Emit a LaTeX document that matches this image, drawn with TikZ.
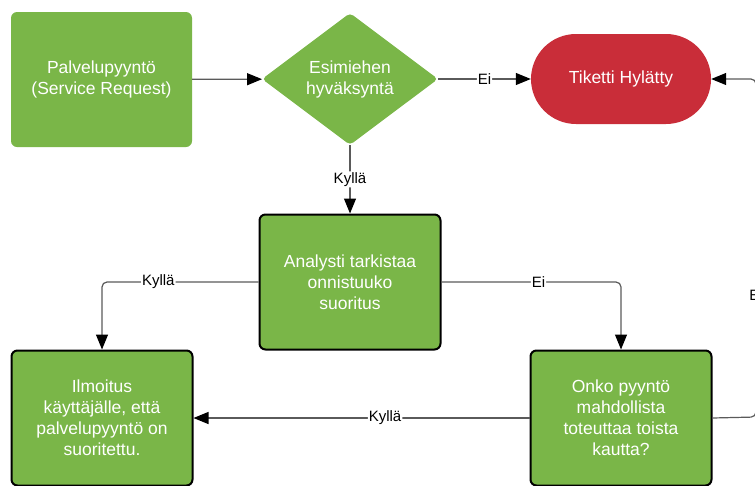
\documentclass[tikz,border=0pt]{standalone}
\usepackage{fontspec}
\setmainfont{Liberation Sans}
\usetikzlibrary{shapes.geometric,arrows.meta}
\definecolor{lgreen}{HTML}{7AB648}
\definecolor{lred}{HTML}{C92D39}
\definecolor{lline}{HTML}{5A5A5A}
\begin{document}
\begin{tikzpicture}[x=1pt, y=-1pt,
    main/.style = {rectangle, rounded corners=6pt, fill=lgreen, text=white, align=center,
      minimum width=181pt, minimum height=135pt, inner sep=2pt,
      font=\fontsize{17.5}{21}\selectfont},
    edged/.style = {main, draw=black, line width=2pt},
    choice/.style = {diamond, rounded corners=4pt, fill=lgreen, text=white, align=center,
      minimum width=176pt, minimum height=132pt, inner sep=0pt,
      font=\fontsize{17.5}{21}\selectfont},
    stop/.style = {main, fill=lred, rounded corners=45pt, minimum width=180pt, minimum height=90pt},
    conn/.style = {draw=lline, line width=1.2pt, rounded corners=5pt,
      -{Triangle[length=15pt, width=12pt, black]}},
    lbl/.style = {fill=white, text=black, inner sep=1pt, font=\fontsize{15}{17}\selectfont}]
        \useasboundingbox (0,0) rectangle (755,485);
        \clip (0,0) rectangle (755,485);
        \node[main] (0) at (101.5,79.5) {Palvelupyynt\"o\\(Service Request)};
        \node[choice] (1) at (350,79) {Esimiehen\\hyv\"aksynt\"a};
        \node[stop] (2) at (621,79) {Tiketti Hyl\"atty};
        \node[edged] (3) at (350,282) {Analysti tarkistaa\\onnistuuko\\suoritus};
        \node[edged] (4) at (102,418) {Ilmoitus\\k\"aytt\"aj\"alle, ett\"a\\palvelupyynt\"o on\\suoritettu.};
        \node[edged] (5) at (621,418) {Onko pyynt\"o\\mahdollista\\toteuttaa toista\\kautta?};
        \coordinate (6) at (756,417);
        \coordinate (7) at (756,79);
        %
        \draw[conn] (0) -- (1);
        \draw[conn] (1) -- node[lbl] {Ei} (2);
        \draw[conn] (1) -- node[lbl] {Kyll\"a} (3);
        \draw[conn] (3) -| node[lbl, pos=0.32] {Kyll\"a} (4);
        \draw[conn] (3) -| node[lbl, pos=0.27] {Ei} (5);
        \draw[conn] (5) -- node[lbl, pos=0.43] {Kyll\"a} (4);
        \draw[conn] (5.east) -- (6) -- node[lbl, pos=0.36] {Ei} (7) -- (2.east);
      \end{tikzpicture}
\end{document}
